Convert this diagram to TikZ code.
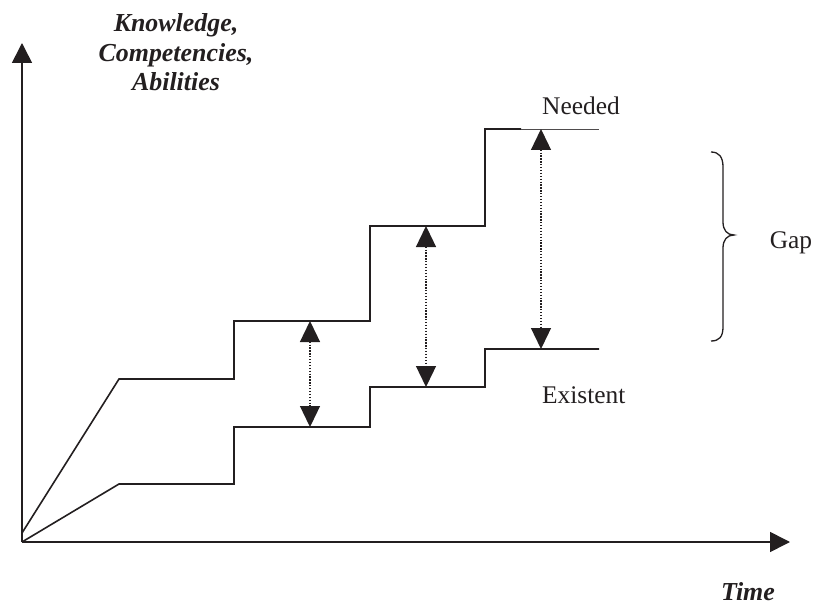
\documentclass[tikz,border=0pt]{standalone}
\usepackage{fontspec}
\setmainfont{Liberation Serif}
\usetikzlibrary{arrows.meta}
\definecolor{ink}{HTML}{231F20}
\begin{document}
\begin{tikzpicture}[x=1bp,y=-1bp,
  line/.style={draw=ink,line width=1.6bp,line join=miter},
  thin/.style={draw=ink!80,line width=0.9bp},
  axis/.style={draw=ink,line width=1.6bp,-{Triangle[width=20bp,length=20bp]}},
  gaparrow/.style={draw=ink,line width=1.3bp,dash pattern=on 1.3bp off 1.6bp,{Triangle[width=20bp,length=21bp]}-{Triangle[width=20bp,length=21bp]}},
  lbl/.style={text=ink,font=\fontsize{25.5}{30}\selectfont,inner sep=0pt},
  ttl/.style={text=ink,font=\fontsize{26}{30}\selectfont\bfseries\itshape,inner sep=0pt}]
\useasboundingbox (0,0) rectangle (816,605);
% coordinates
\coordinate (O) at (22,542);
\coordinate (Ytip) at (22,43);
\coordinate (Xtip) at (790,542);
% needed line
\coordinate (n0) at (22,533);
\coordinate (n1) at (119,379);
\coordinate (n2) at (234,379);
\coordinate (n3) at (234,321);
\coordinate (n4) at (370,321);
\coordinate (n5) at (370,226);
\coordinate (n6) at (485,226);
\coordinate (n7) at (485,129);
\coordinate (n8) at (521,129);
\coordinate (n9) at (599,129);
% existent line
\coordinate (e1) at (119,484);
\coordinate (e2) at (234,484);
\coordinate (e3) at (234,427);
\coordinate (e4) at (370,427);
\coordinate (e5) at (370,387);
\coordinate (e6) at (485,387);
\coordinate (e7) at (485,349);
\coordinate (e8) at (599,349);
% gap arrow ends
\coordinate (g1t) at (310,321);
\coordinate (g1b) at (310,427);
\coordinate (g2t) at (426,226);
\coordinate (g2b) at (426,387);
\coordinate (g3t) at (541,129);
\coordinate (g3b) at (541,349);
% axes
\draw[axis] (O) -- (Ytip);
\draw[axis] (O) -- (Xtip);
% curves
\draw[line] (n0) -- (n1) -- (n2) -- (n3) -- (n4) -- (n5) -- (n6) -- (n7) -- (n8);
\draw[thin] (n8) -- (n9);
\draw[line] (O) -- (e1) -- (e2) -- (e3) -- (e4) -- (e5) -- (e6) -- (e7) -- (e8);
% gap arrows
\draw[gaparrow] (g1t) -- (g1b);
\draw[gaparrow] (g2t) -- (g2b);
\draw[gaparrow] (g3t) -- (g3b);
% brace
\draw[draw=ink,line width=1.3bp] (711,152) .. controls (719,152) and (723,157) .. (723,167) -- (723,222) .. controls (723,230) and (727,235) .. (734,235) .. controls (727,235) and (723,240) .. (723,248) -- (723,327) .. controls (723,337) and (719,341) .. (711,341);
% labels
\node[ttl,anchor=base] (k1) at (176,32) {Knowledge,};
\node[ttl,anchor=base] (k2) at (176,62) {Competencies,};
\node[ttl,anchor=base] (k3) at (176,91) {Abilities};
\node[ttl,anchor=base] (time) at (748,600) {Time};
\node[lbl,anchor=base west] (needed) at (542,115) {Needed};
\node[lbl,anchor=base west] (existent) at (542,403) {Existent};
\node[lbl,anchor=base] (gap) at (791,248) {Gap};
\end{tikzpicture}
\end{document}
